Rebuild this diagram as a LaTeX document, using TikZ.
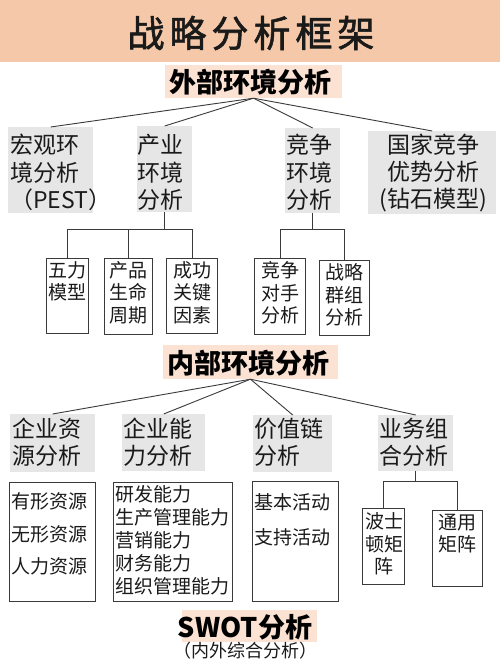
\documentclass[tikz,border=0pt]{standalone}
\usepackage{fontspec}
\setmainfont{Noto Sans CJK SC}
\newfontfamily\titlefont[FakeBold=1.6]{Noto Sans CJK SC}
\usetikzlibrary{positioning}
\definecolor{titlec}{HTML}{F4C8A8}
\definecolor{headc}{HTML}{FBE2D3}
\definecolor{boxgray}{HTML}{E6E6E6}
\definecolor{linec}{HTML}{3A3A3A}
\definecolor{textc}{HTML}{1A1A1A}
\newcommand{\tk}{\kern5pt}
\tikzset{
  gbox/.style={fill=boxgray, draw=none, inner sep=0pt, anchor=north west},
  wbox/.style={draw=linec, line width=1pt, fill=white, inner sep=0pt, anchor=north west},
  hbg/.style={fill=headc, draw=none, inner sep=0pt},
  conn/.style={draw=linec, line width=0.9pt},
  gtxt/.style={inner sep=0pt, align=left, text=textc, font=\fontsize{23}{27.5}\selectfont},
  ctxt/.style={inner sep=0pt, align=center, text=textc, font=\fontsize{23}{27}\selectfont},
  stxt/.style={inner sep=0pt, align=center, text=textc, anchor=north, font=\fontsize{19}{22.8}\selectfont},
  ltxt/.style={inner sep=0pt, align=left, text=textc, anchor=north west},
  htxt/.style={inner sep=0pt, text=black, font=\bfseries\fontsize{27}{27}\selectfont},
}
\begin{document}
\begin{tikzpicture}[x=1pt,y=-1pt]
\useasboundingbox (0,0) rectangle (500,666);
\fill[white] (0,0) rectangle (500,666);
% title band
\fill[titlec] (0,0) rectangle (500,62);
\node[inner sep=0pt, text=textc, font=\titlefont\fontsize{37}{37}\selectfont] (title) at (251,33) {战\tk 略\tk 分\tk 析\tk 框\tk 架};

% external heading
\node[hbg, minimum width=177pt, minimum height=33pt] (extbg) at (253.5,81.5) {};
\node[htxt] (ext) at (250,82) {外部环境分析};

% gray boxes row 1
\node[gbox, minimum width=85pt, minimum height=86pt] (mac) at (8,127) {};
\node[gbox, minimum width=55pt, minimum height=86pt] (ind) at (137,126) {};
\node[gbox, minimum width=55pt, minimum height=85pt] (com) at (285,128) {};
\node[gbox, minimum width=128pt, minimum height=83pt] (nat) at (368,131) {};
\node[gtxt, anchor=west] (mac-t) at (10,172.5) {宏观环\\境分析\\（PEST）};
\node[gtxt, anchor=west] (ind-t) at (137.5,172.5) {产业\\环境\\分析};
\node[gtxt, anchor=west] (com-t) at (286,172.5) {竞争\\环境\\分析};
\node[ctxt] (nat-t) at (433,173) {国家竞争\\优势分析\\(钻石模型)};

\draw[conn] (extbg.south) -- (mac.north);
\draw[conn] (extbg.south) -- (ind.north);
\draw[conn] (extbg.south) -- (com.north);
\draw[conn] (extbg.south) -- (nat.north);

% small boxes under industry
\node[wbox, minimum width=42pt, minimum height=75pt] (wuli) at (46,258) {};
\node[wbox, minimum width=48pt, minimum height=76pt] (cpsm) at (104,258) {};
\node[wbox, minimum width=51pt, minimum height=75pt] (cggj) at (166,258) {};
\node[stxt] (wuli-t) at ([yshift=-3pt]wuli.north) {五力\\模型};
\node[stxt] (cpsm-t) at ([yshift=-3pt]cpsm.north) {产品\\生命\\周期};
\node[stxt] (cggj-t) at ([yshift=-3pt]cggj.north) {成功\\关键\\因素};
\coordinate (indj) at (ind.south |- 0,229);
\draw[conn] (ind.south) -- (indj);
\draw[conn] (wuli.north) |- (cggj.north |- indj) -- (cggj.north);
\draw[conn] (cpsm.north) -- (cpsm.north |- indj);

% small boxes under competition
\node[wbox, minimum width=51pt, minimum height=76pt] (jzds) at (254,258) {};
\node[wbox, minimum width=50pt, minimum height=75pt] (zlqz) at (319,260) {};
\node[stxt] (jzds-t) at ([yshift=-3pt]jzds.north) {竞争\\对手\\分析};
\node[stxt] (zlqz-t) at ([yshift=-3pt]zlqz.north) {战略\\群组\\分析};
\coordinate (comj) at (com.south |- 0,229);
\draw[conn] (com.south) -- (comj);
\draw[conn] (jzds.north) |- (zlqz.north |- comj) -- (zlqz.north);

% internal heading
\node[hbg, minimum width=175pt, minimum height=34pt] (intbg) at (250.5,362) {};
\node[htxt] (int) at (248,363) {内部环境分析};

% gray boxes row 2
\node[gbox, minimum width=85pt, minimum height=58pt] (res) at (10,414) {};
\node[gbox, minimum width=83pt, minimum height=57pt] (cap) at (122,414) {};
\node[gbox, minimum width=79pt, minimum height=57pt] (val) at (253,415) {};
\node[gbox, minimum width=75pt, minimum height=56pt] (bus) at (378,415) {};
\node[gtxt, anchor=west, font=\fontsize{23}{27}\selectfont] (res-t) at (12,442) {企业资\\源分析};
\node[gtxt, anchor=west, font=\fontsize{23}{27}\selectfont] (cap-t) at (123,442) {企业能\\力分析};
\node[gtxt, anchor=west, font=\fontsize{23}{27}\selectfont] (val-t) at (254,442) {价值链\\分析};
\node[gtxt, anchor=west, font=\fontsize{23}{27}\selectfont] (bus-t) at (379,442) {业务组\\合分析};

\draw[conn] (intbg.south) -- (res.north);
\draw[conn] (intbg.south) -- (cap.north);
\draw[conn] (intbg.south) -- (val.north);
\draw[conn] (intbg.south) -- (bus.north);

% white boxes row 2
\node[wbox, minimum width=86pt, minimum height=119pt] (b1) at (9,482) {};
\node[wbox, minimum width=119pt, minimum height=119pt] (b2) at (113,482) {};
\node[wbox, minimum width=86pt, minimum height=120pt] (b3) at (252,481) {};
\node[ltxt, font=\fontsize{19}{32.5}\selectfont] (b1-t) at (11.5,492.5) {有形资源\\无形资源\\人力资源};
\node[ltxt, font=\fontsize{19}{23}\selectfont] (b2-t) at (115,485.5) {研发能力\\生产管理能力\\营销能力\\财务能力\\组织管理能力};
\node[ltxt, font=\fontsize{19}{35}\selectfont] (b3-t) at (254,493.5) {基本活动\\支持活动};

% business portfolio boxes
\node[wbox, minimum width=42pt, minimum height=76pt] (bst) at (362,508) {};
\node[wbox, minimum width=50pt, minimum height=76pt] (tym) at (432,510) {};
\node[stxt, font=\fontsize{19}{22.5}\selectfont] (bst-t) at (384,512.5) {波士\\顿矩\\阵};
\node[stxt, font=\fontsize{19}{22.5}\selectfont] (tym-t) at (457,513.5) {通用\\矩阵};
\coordinate (busj) at (bus.south |- 0,481);
\draw[conn] (bus.south) -- (busj);
\draw[conn] (bst.north) |- (tym.north |- busj) -- (tym.north);

% SWOT
\node[hbg, minimum width=135pt, minimum height=32pt] (swotbg) at (249.5,626) {};
\node[htxt] (swot) at (245,627) {SWOT分析};
\node[inner sep=0pt, text=textc, font=\fontsize{18}{18}\selectfont] (swot-s) at (245,651) {（内外综合分析）};
\end{tikzpicture}
\end{document}
